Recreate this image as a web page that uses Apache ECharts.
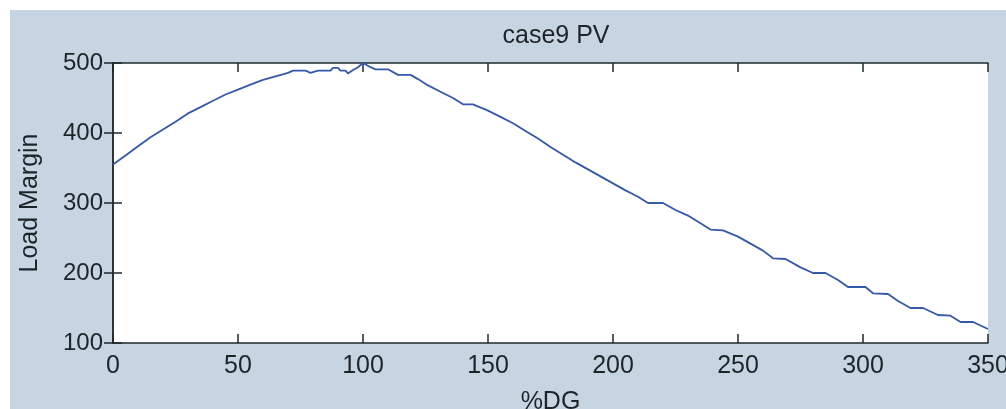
<!DOCTYPE html>
<html>
<head>
<meta charset="utf-8">
<script src="https://cdn.jsdelivr.net/npm/echarts@6/dist/echarts.min.js"></script>
<style>html,body{margin:0;padding:0;background:#fff}#c{width:1006px;height:409px}</style>
</head>
<body>
<div id="c"></div>
<script>
const titleText = "case9 PV";
const xName = "%DG";
const yName = "Load Margin";
const xTicks = [0, 50, 100, 150, 200, 250, 300, 350];
const yTicks = [100, 200, 300, 400, 500];
const dgPercent = [0,5,10,15,20,25,30,35,40,45,50,55,60,65,70,72,77,79,82,87,88,90,91,93,94,96,98,100,103,105,110,114,119,122,126,131,136,140,144,150,155,160,165,170,175,180,185,190,195,200,205,210,214,220,225,230,235,239,244,250,255,260,264,269,275,280,285,290,294,301,304,310,314,319,324,330,335,339,344,350];
const loadMargin = [355,368,381,394,405,416,428,437,446,455,462,469,476,481,486,489,489,486,489,489,493,493,489,489,485,490,494,500,494,491,491,483,483,477,468,459,450,441,441,432,423,414,403,392,380,369,358,348,338,328,318,309,300,300,290,282,271,262,261,252,242,232,221,220,208,200,200,190,180,180,171,170,160,150,150,140,139,130,130,120];

const font = "'Liberation Sans', Arial, sans-serif";
const txt = "#1d2428";
const axisCol = "#1e2a2e";
const chart = echarts.init(document.getElementById('c'), null, {renderer: 'canvas'});
const pts = dgPercent.map((x, i) => [x, loadMargin[i]]);
const commonX = {
  type: 'value', min: xTicks[0], max: xTicks[xTicks.length-1], interval: 50,
  axisLine: {show: true, lineStyle: {color: axisCol, width: 1.5}},
  splitLine: {show: false}
};
const commonY = {
  type: 'value', min: yTicks[0], max: yTicks[yTicks.length-1], interval: 100,
  axisLine: {show: true, lineStyle: {color: axisCol, width: 1.5}},
  splitLine: {show: false}
};
chart.setOption({
  animation: false,
  backgroundColor: '#ffffff',
  graphic: [{type: 'rect', z: -10, shape: {x: 10, y: 10, width: 996, height: 399}, style: {fill: '#c7d5e3'}}],
  title: {
    text: titleText, left: 551, top: 19, textAlign: 'center',
    textStyle: {fontFamily: font, fontSize: 25, fontWeight: 'normal', color: txt}
  },
  grid: {left: 113, right: 18, top: 63, bottom: 66, show: true, backgroundColor: '#ffffff', borderWidth: 0, containLabel: false, outerBoundsMode: 'none'},
  xAxis: [
    Object.assign({}, commonX, {
      position: 'bottom', name: xName, nameLocation: 'middle', nameGap: 47,
      nameTextStyle: {fontFamily: font, fontSize: 25, color: txt},
      axisTick: {show: true, inside: true, length: 9, lineStyle: {color: axisCol, width: 1.5}},
      axisLabel: {show: true, margin: 11, fontFamily: font, fontSize: 25, color: txt}
    }),
    Object.assign({}, commonX, {
      position: 'top',
      axisTick: {show: true, inside: true, length: 9, lineStyle: {color: axisCol, width: 1.5}},
      axisLabel: {show: false}
    })
  ],
  yAxis: [
    Object.assign({}, commonY, {
      position: 'left', name: yName, nameLocation: 'middle', nameGap: 70,
      nameTextStyle: {fontFamily: font, fontSize: 25, color: txt},
      axisTick: {show: true, inside: true, length: 9, lineStyle: {color: axisCol, width: 1.5}},
      axisLabel: {show: true, margin: 10, fontFamily: font, fontSize: 24, color: txt}
    }),
    Object.assign({}, commonY, {
      position: 'right',
      axisTick: {show: true, inside: true, length: 9, lineStyle: {color: axisCol, width: 1.5}},
      axisLabel: {show: false}
    })
  ],
  series: [{
    type: 'line', xAxisIndex: 0, yAxisIndex: 0, data: pts, showSymbol: false, symbol: 'none',
    lineStyle: {color: '#3458ab', width: 1.8}, clip: false
  }]
});
</script>
</body>
</html>
